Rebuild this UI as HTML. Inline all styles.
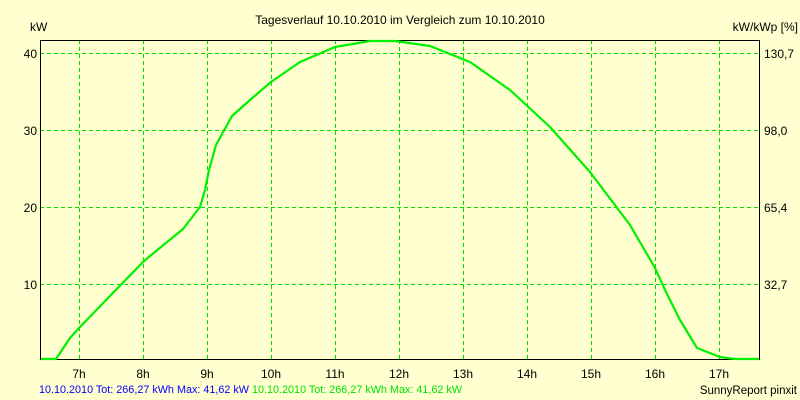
<!DOCTYPE html>
<html><head><style>
body{margin:0;background:#ffffd0;}
svg{display:block;font-family:"Liberation Sans",sans-serif;font-size:12px;}
</style></head><body>
<svg width="800" height="400" viewBox="0 0 800 400">
<rect width="800" height="400" fill="#ffffd0"/>
<g stroke="#00e000" stroke-dasharray="4,3" stroke-width="1" shape-rendering="crispEdges">
<line x1="79.5" y1="40" x2="79.5" y2="359"/><line x1="143.5" y1="40" x2="143.5" y2="359"/>
<line x1="207.5" y1="40" x2="207.5" y2="359"/><line x1="271.5" y1="40" x2="271.5" y2="359"/>
<line x1="335.5" y1="40" x2="335.5" y2="359"/><line x1="399.5" y1="40" x2="399.5" y2="359"/>
<line x1="463.5" y1="40" x2="463.5" y2="359"/><line x1="527.5" y1="40" x2="527.5" y2="359"/>
<line x1="591.5" y1="40" x2="591.5" y2="359"/><line x1="655.5" y1="40" x2="655.5" y2="359"/>
<line x1="719.5" y1="40" x2="719.5" y2="359"/>
<line x1="40" y1="53.5" x2="760" y2="53.5"/><line x1="40" y1="130.5" x2="760" y2="130.5"/>
<line x1="40" y1="207.5" x2="760" y2="207.5"/><line x1="40" y1="284.5" x2="760" y2="284.5"/>
</g>
<path d="M40.5 40.5H759.5V359.5H40.5Z" fill="none" stroke="#000" stroke-width="1" shape-rendering="crispEdges"/>
<polyline fill="none" stroke="#00f000" stroke-width="2.2" stroke-linejoin="round" points="41,359 56,359 70,338 79,328 110,296 143,262 150,256 183,229 200,207 205,190 209,170 216,145 232,116 250,100 271,82 300,62 335,47 370,41 395,41 430,46 470,62 510,90 550,127 590,172 630,225 655,268 666,292 680,320 697,348 720,357 735,359 759,359"/>
<text x="400" y="24" text-anchor="middle">Tagesverlauf 10.10.2010 im Vergleich zum 10.10.2010</text>
<text x="30" y="31">kW</text>
<text x="798" y="31" text-anchor="end">kW/kWp [%]</text>
<g text-anchor="end"><text x="37" y="58">40</text><text x="37" y="135">30</text><text x="37" y="212">20</text><text x="37" y="289">10</text></g>
<g><text x="764" y="58">130,7</text><text x="764" y="135">98,0</text><text x="764" y="212">65,4</text><text x="764" y="289">32,7</text></g>
<g text-anchor="middle"><text x="79" y="378">7h</text><text x="143" y="378">8h</text><text x="207" y="378">9h</text><text x="271" y="378">10h</text><text x="335" y="378">11h</text><text x="399" y="378">12h</text><text x="463" y="378">13h</text><text x="527" y="378">14h</text><text x="591" y="378">15h</text><text x="655" y="378">16h</text><text x="719" y="378">17h</text></g>
<text x="39" y="393" fill="#0000ff" font-size="11" textLength="423" lengthAdjust="spacingAndGlyphs">10.10.2010 Tot: 266,27 kWh Max: 41,62 kW <tspan fill="#00e000">10.10.2010 Tot: 266,27 kWh Max: 41,62 kW</tspan></text>
<text x="797" y="394" text-anchor="end" font-size="11.5">SunnyReport pinxit</text>
</svg>
</body></html>
